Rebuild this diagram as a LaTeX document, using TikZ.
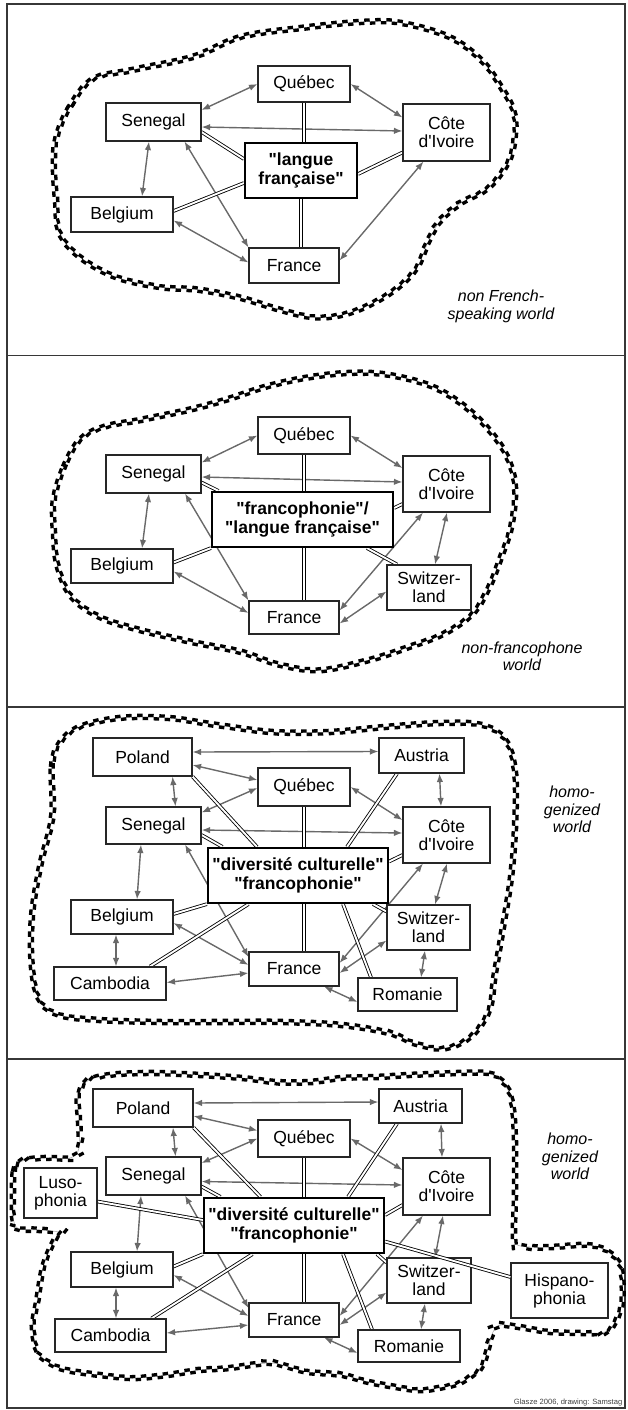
\documentclass[tikz,border=0pt]{standalone}
\usepackage{fontspec}
\setmainfont{Liberation Sans}[Ligatures=TeXOff]
\usetikzlibrary{arrows.meta,backgrounds,decorations.markings}
\definecolor{arrgray}{RGB}{105,105,105}
\definecolor{framegray}{RGB}{55,55,55}

\begin{document}
\begin{tikzpicture}[
            x=1pt, y=-1pt,
            >={Latex[length=8.5pt,width=6.5pt]},
            land/.style={draw=black!85, line width=1.1pt, fill=white, inner sep=0pt, align=center, font=\fontsize{17.5}{18}\selectfont},
            core/.style={draw=black, line width=2.2pt, fill=white, inner sep=0pt, align=center, font=\bfseries\fontsize{17.5}{19}\selectfont},
            wh/.style 2 args={minimum width=#1pt, minimum height=#2pt},
            world/.style={font=\itshape\fontsize{16}{17.5}\selectfont, align=center},
            arr/.style={draw=arrgray, line width=1.4pt, <->},
            dbl/.style={draw=black, line width=0.85pt, double=white, double distance=1.9pt},
            frame/.style={draw=framegray, line width=1.8pt},
            checkline/.style={draw=gray!70, line width=0.5pt,
                postaction={decorate, decoration={markings,
                    mark=between positions 0 and 1 step 11pt with {\fill[black] (0pt,0pt) rectangle (5.5pt,3.3pt); \fill[black] (5.5pt,0pt) rectangle (11pt,-3.3pt);}}}}
        ]
        \useasboundingbox (0,0) rectangle (628,1410);

        % Frame and the four world outlines
        \begin{scope}[on background layer]
        \draw[frame] (7,4) rectangle (625,1408);
        \draw[frame] (7,355.5) -- (625,355.5);
        \draw[frame] (7,707) -- (625,707);
        \draw[frame] (7,1059) -- (625,1059);

        \draw[checkline] plot[smooth cycle, tension=0.6] coordinates {(56,140) (68,110) (92,80) (132,70) (192,57) (241,37) (301,28) (361,22) (401,23) (449,37) (481,60) (501,87) (513,110) (515,133) (509,160) (489,187) (461,203) (441,220) (429,240) (417,267) (397,288) (369,305) (341,315) (313,317) (281,310) (241,298) (200,290) (160,287) (116,277) (80,257) (60,233) (56,200) (54,167)};

        \draw[checkline] plot[smooth cycle, tension=0.6] coordinates {(54,500) (64,467) (80,440) (104,427) (140,420) (188,410) (225,400) (265,387) (305,378) (349,373) (389,375) (433,387) (469,410) (497,440) (511,467) (515,493) (511,527) (501,557) (489,587) (473,613) (445,633) (409,647) (369,660) (321,670) (281,665) (241,652) (192,642) (140,630) (100,617) (72,597) (58,567) (54,533)};

        \draw[checkline] plot[smooth cycle, tension=0.6] coordinates {(52,817) (52,767) (60,743) (80,727) (120,718) (168,718) (217,725) (273,732) (329,732) (385,727) (441,723) (481,725) (505,740) (515,773) (515,827) (511,877) (503,927) (495,973) (489,1010) (471,1036) (445,1048) (417,1044) (389,1033) (341,1025) (281,1022) (221,1022) (160,1022) (100,1020) (60,1015) (40,1000) (32,967) (32,917) (40,867)};

        \draw[checkline] plot[smooth cycle, tension=0.55] coordinates {(13,1200) (14,1172) (22,1161) (45,1158) (70,1158) (79,1148) (79,1120) (78,1100) (86,1082) (110,1075) (150,1073) (200,1075) (242,1078) (276,1082) (309,1082) (342,1078) (376,1077) (409,1075) (458,1073) (485,1073) (498,1078) (508,1090) (513,1110) (515,1143) (515,1193) (514,1230) (516,1244) (530,1247) (551,1247) (585,1245) (605,1250) (618,1262) (622,1278) (622,1302) (615,1322) (605,1332) (585,1333) (551,1332) (525,1328) (501,1325) (493,1332) (488,1348) (481,1367) (461,1382) (438,1388) (419,1390) (396,1387) (369,1382) (342,1375) (309,1372) (289,1367) (269,1363) (229,1368) (200,1370) (167,1375) (133,1378) (100,1375) (67,1370) (50,1363) (38,1352) (33,1328) (37,1302) (43,1268) (52,1245) (60,1233) (40,1230) (20,1229) (14,1222)};
        \end{scope}

        % Panel 1 - langue francaise
        \node[land, wh={92}{36}] (que1) at (304,84) {Québec};
        \node[land, wh={95}{38}] (sen1) at (153.5,122) {Senegal};
        \node[land, wh={87}{57}] (cote1) at (446.5,132.5) {Côte\\d'Ivoire};
        \node[core, wh={112}{55}] (core1) at (301,170.5) {"langue\\française"};
        \node[land, wh={102}{35}] (bel1) at (122,214.5) {Belgium};
        \node[land, wh={90}{35}] (fra1) at (294,265.5) {France};
        \node[world] (lbl1) at (501,306.5) {non French-\\speaking world};

        \begin{scope}[on background layer]
        \draw[arr] ([yshift=12pt]sen1.east) -- (que1.west);
        \draw[arr] (que1.east) -- ([yshift=15pt]cote1.west);
        \draw[arr] ([yshift=-5pt]sen1.east) -- ([yshift=1.5pt]cote1.west);
        \draw[arr] ([xshift=-4.5pt]sen1.south) -- ([xshift=20pt]bel1.north);
        \draw[arr] ([xshift=31pt]sen1.south) -- (fra1.north west);
        \draw[arr] ([yshift=-6pt]bel1.east) -- ([yshift=3pt]fra1.west);
        \draw[arr] ([xshift=-23pt]cote1.south) -- ([yshift=5pt]fra1.east);

        \draw[dbl] (que1.south) -- (que1.south |- core1.north);
        \draw[dbl] (core1.south) -- (core1.south |- fra1.north);
        \draw[dbl] ([yshift=-10pt]sen1.east) -- ([yshift=11.5pt]core1.west);
        \draw[dbl] ([yshift=3.5pt]bel1.east) -- ([yshift=-12.5pt]core1.west);
        \draw[dbl] ([yshift=-3.5pt]core1.east) -- ([yshift=-20pt]cote1.west);
        \end{scope}

        % Panel 2 - francophonie
        \node[land, wh={92}{37}] (que2) at (304,435.5) {Québec};
        \node[land, wh={95}{38}] (sen2) at (153.5,474) {Senegal};
        \node[land, wh={87}{56}] (cote2) at (446.5,484) {Côte\\d'Ivoire};
        \node[core, wh={181}{55}] (core2) at (302.5,519.5) {"francophonie"/\\"langue française"};
        \node[land, wh={102}{34}] (bel2) at (122,566) {Belgium};
        \node[land, wh={84}{45}] (swi2) at (429,587.5) {Switzer-\\land};
        \node[land, wh={90}{33}] (fra2) at (294,617.5) {France};
        \node[world] (lbl2) at (522,656.5) {non-francophone\\world};

        \begin{scope}[on background layer]
        \draw[arr] ([yshift=11.5pt]sen2.east) -- (que2.west);
        \draw[arr] (que2.east) -- ([yshift=16pt]cote2.west);
        \draw[arr] ([yshift=-3pt]sen2.east) -- ([yshift=2pt]cote2.west);
        \draw[arr] ([xshift=-4.5pt]sen2.south) -- ([xshift=20pt]bel2.north);
        \draw[arr] ([xshift=31.5pt]sen2.south) -- (fra2.north west);
        \draw[arr] ([yshift=-5.5pt]bel2.east) -- ([yshift=4.5pt]fra2.west);
        \draw[arr] ([xshift=-23.5pt]cote2.south) -- ([yshift=7pt]fra2.east);
        \draw[arr] ([xshift=0.5pt]cote2.south) -- ([xshift=6pt]swi2.north);
        \draw[arr] ([yshift=-4pt]swi2.west) -- ([yshift=-6pt]fra2.east);

        \draw[dbl] (que2.south) -- (que2.south |- core2.north);
        \draw[dbl] (fra2.north -| que2.south) -- (core2.south -| que2.south);
        \draw[dbl] ([yshift=-8.5pt]sen2.east) -- ([xshift=-84pt]core2.north);
        \draw[dbl] ([yshift=3.5pt]bel2.east) -- (core2.south west);
        \draw[dbl] ([yshift=11.5pt]core2.east) -- ([yshift=-20pt]cote2.west);
        \draw[dbl] ([xshift=64.5pt]core2.south) -- ([xshift=-32pt]swi2.north);
        \end{scope}

        % Panel 3 - diversite culturelle
        \node[land, wh={99}{38}] (pol3) at (142.5,757) {Poland};
        \node[land, wh={85}{35}] (aus3) at (421.5,755.5) {Austria};
        \node[land, wh={92}{38}] (que3) at (304,787) {Québec};
        \node[land, wh={95}{37}] (sen3) at (153.5,825.5) {Senegal};
        \node[land, wh={87}{56}] (cote3) at (446.5,835) {Côte\\d'Ivoire};
        \node[core, wh={180}{55}] (core3) at (298,875.5) {"diversité culturelle"\\"francophonie"};
        \node[land, wh={102}{34}] (bel3) at (122,917) {Belgium};
        \node[land, wh={83}{45}] (swi3) at (428.5,927.5) {Switzer-\\land};
        \node[land, wh={112}{33}] (cam3) at (110,983.5) {Cambodia};
        \node[land, wh={90}{34}] (fra3) at (294,969) {France};
        \node[land, wh={99}{33}] (rom3) at (407.5,994.5) {Romanie};
        \node[world] (lbl3) at (572,809.5) {homo-\\genized\\world};

        \begin{scope}[on background layer]
        \draw[arr] ([yshift=5pt]pol3.east) -- ([yshift=4pt]aus3.west);
        \draw[arr] ([yshift=-8pt]pol3.east) -- ([yshift=7pt]que3.west);
        \draw[arr] ([xshift=30pt]pol3.south) -- ([xshift=22pt]sen3.north);
        \draw[arr] ([yshift=13pt]sen3.east) -- ([yshift=-1pt]que3.west);
        \draw[arr] (que3.east) -- ([yshift=15pt]cote3.west);
        \draw[arr] ([yshift=-4.5pt]sen3.east) -- ([yshift=2pt]cote3.west);
        \draw[arr] ([xshift=18pt]aus3.south) -- ([xshift=-5.5pt]cote3.north);
        \draw[arr] ([xshift=-12.5pt]sen3.south) -- ([xshift=15pt]bel3.north);
        \draw[arr] ([xshift=31.5pt]sen3.south) -- ([yshift=12pt]fra3.west);
        \draw[arr] ([yshift=-6pt]bel3.east) -- ([yshift=4pt]fra3.west);
        \draw[arr] ([xshift=-6pt]bel3.south) -- ([xshift=6pt]cam3.north);
        \draw[arr] ([yshift=1pt]cam3.east) -- ([yshift=-4pt]fra3.west);
        \draw[arr] ([xshift=-23.5pt]cote3.south) -- ([yshift=6pt]fra3.east);
        \draw[arr] ([xshift=0.5pt]cote3.south) -- ([xshift=6.5pt]swi3.north);
        \draw[arr] ([yshift=-13pt]swi3.west) -- ([yshift=-4pt]fra3.east);
        \draw[arr] ([xshift=-3.5pt]swi3.south) -- ([xshift=13.5pt]rom3.north);
        \draw[arr] ([xshift=30pt]fra3.south) -- ([yshift=-7.5pt]rom3.west);

        \draw[dbl] (pol3.south east) -- ([xshift=-41pt]core3.north);
        \draw[dbl] (que3.south) -- (que3.south |- core3.north);
        \draw[dbl] ([xshift=-24.5pt]aus3.south) -- ([xshift=49pt]core3.north);
        \draw[dbl] ([yshift=-9.5pt]sen3.east) -- ([xshift=-75.5pt]core3.north);
        \draw[dbl] ([yshift=14pt]core3.east) -- ([yshift=-20pt]cote3.west);
        \draw[dbl] ([yshift=3pt]bel3.east) -- (core3.south west);
        \draw[dbl] ([xshift=40pt]cam3.north) -- ([xshift=-49.5pt]core3.south);
        \draw[dbl] (fra3.north -| que3.south) -- (core3.south -| que3.south);
        \draw[dbl] ([xshift=-36.5pt]rom3.north) -- ([xshift=45pt]core3.south);
        \draw[dbl] ([yshift=16pt]swi3.west) -- ([xshift=75pt]core3.south);
        \end{scope}

        % Panel 4 - with luso- and hispanophonia
        \node[land, wh={100}{38}] (pol4) at (143,1108) {Poland};
        \node[land, wh={83}{34}] (aus4) at (420.5,1106) {Austria};
        \node[land, wh={92}{37}] (que4) at (304,1138.5) {Québec};
        \node[land, wh={95}{38}] (sen4) at (153.5,1176) {Senegal};
        \node[land, wh={87}{57}] (cote4) at (446.5,1186.5) {Côte\\d'Ivoire};
        \node[core, wh={180}{55}] (core4) at (294,1225.5) {"diversité culturelle"\\"francophonie"};
        \node[land, wh={102}{35}] (bel4) at (122,1269.5) {Belgium};
        \node[land, wh={84}{45}] (swi4) at (429,1280.5) {Switzer-\\land};
        \node[land, wh={111}{33}] (cam4) at (110.5,1335.5) {Cambodia};
        \node[land, wh={90}{34}] (fra4) at (294,1320) {France};
        \node[land, wh={102}{32}] (rom4) at (409,1346) {Romanie};
        \node[land, wh={73}{50}] (luso4) at (60.5,1193) {Luso-\\phonia};
        \node[land, wh={97}{55}] (hisp4) at (559.5,1290.5) {Hispano-\\phonia};
        \node[world] (lbl4) at (570,1156.5) {homo-\\genized\\world};
        \node[anchor=south east, inner sep=0.5pt, text=black!75, font=\fontsize{7.6}{8}\selectfont] (credit) at (623,1407) {Glasze 2006, drawing: Samstag};

        \begin{scope}[on background layer]
        \draw[arr] ([yshift=5pt]pol4.east) -- ([yshift=4pt]aus4.west);
        \draw[arr] ([yshift=-8pt]pol4.east) -- ([yshift=8pt]que4.west);
        \draw[arr] ([xshift=30pt]pol4.south) -- ([xshift=22pt]sen4.north);
        \draw[arr] ([yshift=13pt]sen4.east) -- (que4.west);
        \draw[arr] (que4.east) -- ([yshift=16.5pt]cote4.west);
        \draw[arr] ([yshift=-5.5pt]sen4.east) -- ([yshift=1.5pt]cote4.west);
        \draw[arr] ([xshift=20.5pt]aus4.south) -- ([xshift=-4.5pt]cote4.north);
        \draw[arr] ([xshift=-12.5pt]sen4.south) -- ([xshift=15pt]bel4.north);
        \draw[arr] ([xshift=31.5pt]sen4.south) -- ([yshift=12pt]fra4.west);
        \draw[arr] ([yshift=-5.5pt]bel4.east) -- ([yshift=4pt]fra4.west);
        \draw[arr] ([xshift=-6pt]bel4.south) -- ([xshift=5.5pt]cam4.north);
        \draw[arr] ([yshift=2.5pt]cam4.east) -- ([yshift=-5pt]fra4.west);
        \draw[arr] ([xshift=-23.5pt]cote4.south) -- ([yshift=4pt]fra4.east);
        \draw[arr] ([xshift=-3.5pt]cote4.south) -- ([xshift=6pt]swi4.north);
        \draw[arr] ([yshift=-12pt]swi4.west) -- ([yshift=-5pt]fra4.east);
        \draw[arr] ([xshift=-4pt]swi4.south) -- ([xshift=12pt]rom4.north);
        \draw[arr] ([xshift=30pt]fra4.south) -- ([yshift=-7pt]rom4.west);

        \draw[dbl] (pol4.south east) -- ([xshift=-33.5pt]core4.north);
        \draw[dbl] (que4.south) -- (que4.south |- core4.north);
        \draw[dbl] ([xshift=-23.5pt]aus4.south) -- ([xshift=54pt]core4.north);
        \draw[dbl] ([yshift=-10.5pt]sen4.east) -- ([xshift=-73.5pt]core4.north);
        \draw[dbl] ([yshift=10.5pt]core4.east) -- ([yshift=-18.5pt]cote4.west);
        \draw[dbl] ([yshift=3pt]bel4.east) -- (core4.south west);
        \draw[dbl] ([xshift=41pt]cam4.north) -- ([xshift=-41.5pt]core4.south);
        \draw[dbl] (fra4.north -| que4.south) -- (core4.south -| que4.south);
        \draw[dbl] ([xshift=-37pt]rom4.north) -- ([xshift=49pt]core4.south);
        \draw[dbl] ([yshift=18pt]swi4.west) -- ([xshift=83pt]core4.south);
        \draw[dbl] ([yshift=-8.5pt]luso4.east) -- ([yshift=5.5pt]core4.west);
        \end{scope}

        \draw[dbl] ([yshift=-16pt]core4.east) -- ([yshift=13.5pt]hisp4.west);

    \end{tikzpicture}
\end{document}
